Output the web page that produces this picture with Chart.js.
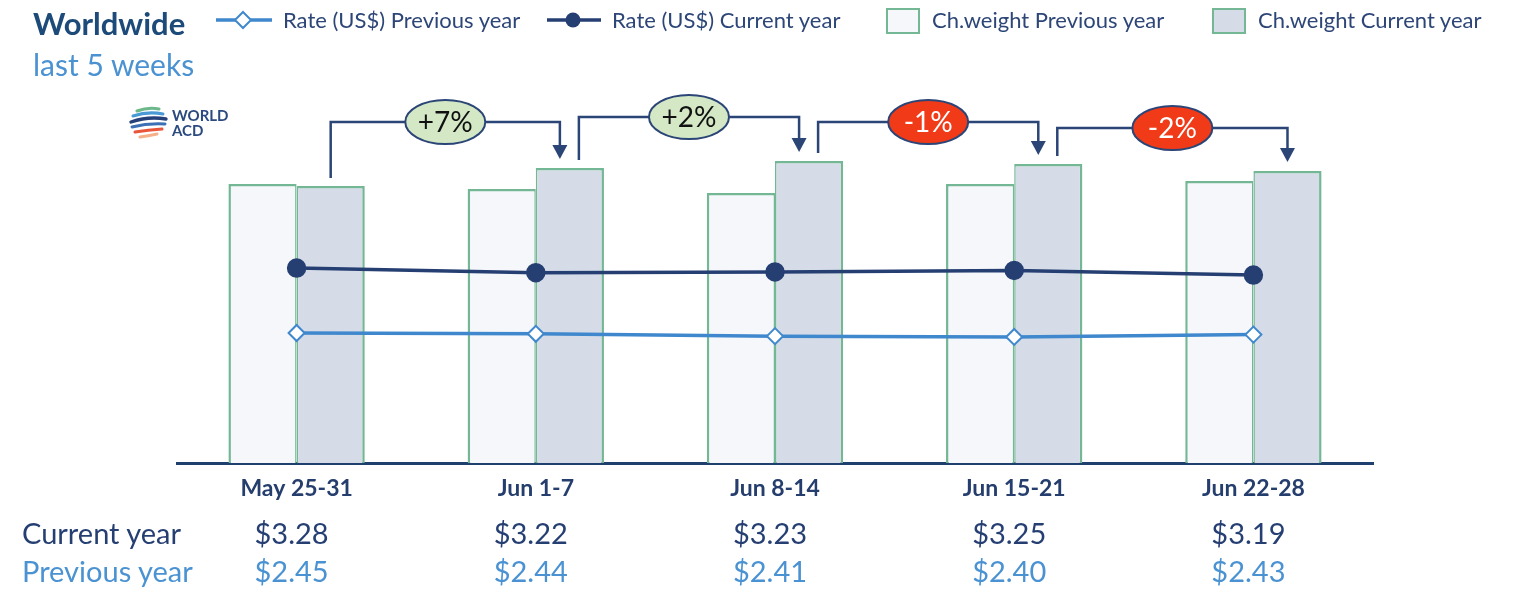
<!DOCTYPE html>
<html><head><meta charset="utf-8">
<script src="https://cdn.jsdelivr.net/npm/chart.js@4.4.1/dist/chart.umd.min.js"></script>
<style>
html,body{margin:0;padding:0;background:#fff;width:1536px;height:605px;overflow:hidden;font-family:Lato,'Open Sans',sans-serif;}
#wrap{position:relative;width:1536px;height:605px;}
#c{position:absolute;left:0;top:0;}
.abs{position:absolute;white-space:nowrap;line-height:1;}
.leg{font-size:22px;color:#2d4677;}
.tbl{font-size:29px;}
</style></head>
<body><div id="wrap">
<canvas id="c" width="1536" height="605"></canvas>
<div class="abs" style="left:33px;top:8px;font-size:31px;font-weight:bold;color:#1c4a79;">Worldwide</div>
<div class="abs" style="left:33px;top:49px;font-size:30px;color:#4a92d2;">last 5 weeks</div>

<svg class="abs" style="left:214px;top:8px" width="60" height="24"><line x1="2" y1="12" x2="58" y2="12" stroke="#3f88cd" stroke-width="3.5"/><polygon points="29,4 37,12 29,20 21,12" fill="#fff" stroke="#3f88cd" stroke-width="2"/></svg>
<div class="abs leg" style="left:283px;top:9px;">Rate (US$) Previous year</div>
<svg class="abs" style="left:545px;top:8px" width="58" height="24"><line x1="2" y1="12" x2="56" y2="12" stroke="#263f73" stroke-width="3.5"/><circle cx="28" cy="12" r="7.5" fill="#263f73"/></svg>
<div class="abs leg" style="left:612px;top:9px;">Rate (US$) Current year</div>
<div class="abs" style="left:886px;top:8px;width:30px;height:22px;background:#f5f7fb;border:2px solid #74b795;"></div>
<div class="abs leg" style="left:932px;top:9px;">Ch.weight Previous year</div>
<div class="abs" style="left:1212px;top:8px;width:30px;height:22px;background:#d5dce8;border:2px solid #74b795;"></div>
<div class="abs leg" style="left:1258px;top:9px;">Ch.weight Current year</div>

<svg class="abs" style="left:128px;top:106px" width="42" height="36" fill="none" stroke-linecap="round">
<path d="M9 5 Q20 1 31 3" stroke="#6cb88a" stroke-width="3"/>
<path d="M5 10 Q20 5 35 8" stroke="#4a9ad6" stroke-width="3"/>
<path d="M3 16 Q20 10 38 13" stroke="#26407a" stroke-width="3.4"/>
<path d="M4 21 Q20 17 37 18" stroke="#3d6fb5" stroke-width="3"/>
<path d="M7 26 Q20 24 34 23" stroke="#e9553a" stroke-width="3"/>
<path d="M12 31 Q20 30 29 28" stroke="#f5b08a" stroke-width="3"/>
</svg>
<div class="abs" style="left:172px;top:108px;font-size:15px;font-weight:bold;color:#2b4a80;">WORLD</div>
<div class="abs" style="left:172px;top:123px;font-size:15px;font-weight:bold;color:#2b4a80;">ACD</div>

<div class="abs tbl" style="left:22px;top:518px;color:#263f73;">Current year</div>
<div class="abs tbl" style="left:22px;top:556px;color:#4a92d2;">Previous year</div>
<div id="rows"></div>
</div>
<script>
const categories = ['May 25-31', 'Jun 1-7', 'Jun 8-14', 'Jun 15-21', 'Jun 22-28'];
const rateCurrent = [3.28, 3.22, 3.23, 3.25, 3.19];
const ratePrevious = [2.45, 2.44, 2.41, 2.40, 2.43];
const weightPrevious = [279, 274, 270, 279, 282];
const weightCurrent = [277, 295, 302, 299, 292];
const changeLabels = ['+7%', '+2%', '-1%', '-2%'];

const NAVY = '#263f73', LBLUE = '#3f88cd', GREEN = '#74b795';

const brackets = {
  id: 'brackets',
  afterDatasetsDraw(chart, args, opts) {
    const meta = chart.getDatasetMeta(3);
    const ctx = chart.ctx;
    const n = meta.data.length;
    ctx.save();
    for (let i = 0; i < n - 1; i++) {
      const a = meta.data[i], b = meta.data[i + 1];
      const x1 = a.x + (i > 0 ? 9 : 0);
      const x2 = b.x - (i + 1 < n - 1 ? 10 : 0);
      const y1 = a.y - 8;
      const tip = b.y - 9;
      const h = Math.min(a.y, b.y) - opts.rise[i];
      ctx.strokeStyle = '#2b4577';
      ctx.lineWidth = 2.5;
      ctx.beginPath();
      ctx.moveTo(x1, y1); ctx.lineTo(x1, h); ctx.lineTo(x2, h); ctx.lineTo(x2, tip - 12);
      ctx.stroke();
      ctx.fillStyle = '#2b4577';
      ctx.beginPath();
      ctx.moveTo(x2 - 7.5, tip - 14); ctx.lineTo(x2 + 7.5, tip - 14); ctx.lineTo(x2, tip);
      ctx.closePath(); ctx.fill();
      const cx = (x1 + x2) / 2;
      const neg = changeLabels[i].startsWith('-');
      ctx.beginPath();
      ctx.ellipse(cx, h, 40, 22, 0, 0, Math.PI * 2);
      ctx.fillStyle = neg ? '#f03a18' : '#d4e8c6';
      ctx.fill();
      ctx.lineWidth = 2;
      ctx.strokeStyle = '#2b4577';
      ctx.stroke();
      ctx.fillStyle = neg ? '#ffffff' : '#111111';
      ctx.font = '28px Lato';
      ctx.textAlign = 'center';
      ctx.textBaseline = 'middle';
      ctx.fillText(changeLabels[i], cx, h + 1);
    }
    ctx.restore();
  }
};

const chart = new Chart(document.getElementById('c'), {
  type: 'bar',
  data: {
    labels: categories,
    datasets: [
      { type: 'line', label: 'Rate (US$) Previous year', data: ratePrevious, yAxisID: 'y2',
        borderColor: LBLUE, borderWidth: 3.5, pointStyle: 'rectRot', pointRadius: 8,
        pointBackgroundColor: '#fff', pointBorderColor: LBLUE, pointBorderWidth: 2, order: 0 },
      { type: 'line', label: 'Rate (US$) Current year', data: rateCurrent, yAxisID: 'y2',
        borderColor: NAVY, borderWidth: 3.5, pointStyle: 'circle', pointRadius: 8,
        pointBackgroundColor: NAVY, pointBorderColor: NAVY, order: 0 },
      { label: 'Ch.weight Previous year', data: weightPrevious, yAxisID: 'y',
        backgroundColor: '#f5f7fb', borderColor: GREEN,
        borderWidth: { top: 2.5, left: 2.5, right: 1.5, bottom: 0 },
        barPercentage: 1, categoryPercentage: 0.57, order: 1 },
      { label: 'Ch.weight Current year', data: weightCurrent, yAxisID: 'y',
        backgroundColor: '#d5dce8', borderColor: GREEN,
        borderWidth: { top: 2.5, left: 1.5, right: 2.5, bottom: 0 },
        barPercentage: 1, categoryPercentage: 0.57, order: 1 }
    ]
  },
  options: {
    responsive: false,
    animation: false,
    layout: { padding: { left: 177, right: 163, top: 100, bottom: 0 } },
    plugins: { legend: { display: false }, tooltip: { enabled: false },
      brackets: { rise: [46, 44, 39, 36] } },
    scales: {
      x: { offset: true, grid: { display: false, drawTicks: false },
        border: { display: true, color: '#1f3f6e', width: 3 },
        ticks: { color: '#253e6d', font: { family: 'Lato', weight: 'bold', size: 23 }, padding: 12 },
        afterFit(s) { s.height = 142; } },
      y: { display: false, min: 0, max: 363 },
      y2: { display: false, min: 0.79, max: 5.426 }
    }
  },
  plugins: [brackets]
});

const rows = document.getElementById('rows');
categories.forEach((c, i) => {
  const x = chart.scales.x.getPixelForValue(i) - 5;
  [[rateCurrent, NAVY, 518], [ratePrevious, '#4a92d2', 556]].forEach(([arr, col, top]) => {
    const d = document.createElement('div');
    d.className = 'abs tbl';
    d.style.cssText = `left:${x - 60}px;width:120px;text-align:center;top:${top}px;color:${col};`;
    d.textContent = '$' + arr[i].toFixed(2);
    rows.appendChild(d);
  });
});
</script>
</body></html>
